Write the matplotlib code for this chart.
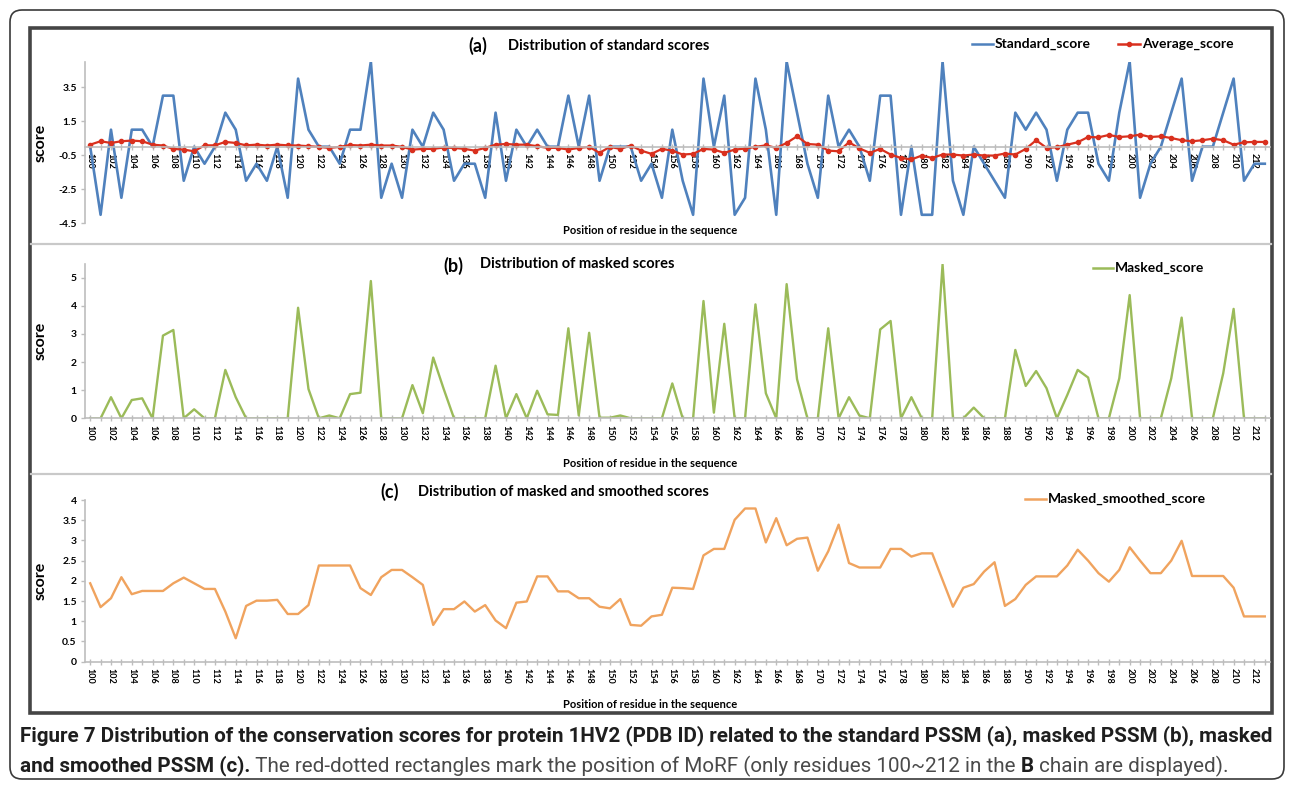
import matplotlib.pyplot as plt
from matplotlib.patches import FancyBboxPatch, Rectangle
from matplotlib.lines import Line2D

plt.rcParams['font.family'] = ['Lato', 'DejaVu Sans']

# residue positions shown on the x axis
residues = list(range(100, 214))

# (a) standard PSSM scores and their running average
standard_score = [0, -4, 1, -3, 1, 1, 0, 3, 3, -2,
                  0, -1, 0, 2, 1, -2, -1, -2, 0, -3,
                  4, 1, 0, 0, -1, 1, 1, 5, -3, -1,
                  -3, 1, 0, 2, 1, -2, -1, -1, -3, 2,
                  -2, 1, 0, 1, 0, 0, 3, 0, 3, -2,
                  0, 0, 0, -2, -1, -3, 1, -2, -4, 4,
                  0, 3, -4, -3, 4, 1, -4, 5, 2, -1,
                  -3, 3, 0, 1, 0, -2, 3, 3, -4, 0,
                  -4, -4, 5, -2, -4, 0, -1, -2, -3, 2,
                  1, 2, 1, -2, 1, 2, 2, -1, -2, 2,
                  5, -3, -1, 0, 2, 4, -2, 0, 0, 2,
                  4, -2, -1, -1]
average_score = [0.12, 0.32, 0.22, 0.32, 0.36, 0.32, 0.12, 0.07, -0.13, -0.17,
                 -0.27, 0.08, 0.08, 0.28, 0.22, 0.08, 0.12, 0.07, 0.12, 0.08,
                 0.07, 0.03, -0.01, -0.07, -0.01, 0.10, 0.07, 0.12, 0.07, 0.07,
                 -0.01, -0.17, -0.13, -0.13, -0.05, -0.07, -0.13, -0.23, -0.07, 0.12,
                 0.16, 0.12, 0.12, 0.03, -0.07, -0.07, -0.17, -0.07, -0.01, -0.36,
                 -0.01, -0.13, 0.07, -0.23, -0.42, -0.13, -0.23, -0.46, -0.42, -0.13,
                 -0.17, -0.36, -0.17, -0.11, -0.01, 0.08, -0.07, 0.22, 0.61, 0.16,
                 0.12, -0.23, -0.27, 0.26, -0.10, -0.36, -0.13, -0.46, -0.66, -0.75,
                 -0.52, -0.66, -0.46, -0.46, -0.52, -0.46, -0.52, -0.52, -0.40, -0.46,
                 -0.13, 0.38, -0.07, -0.03, 0.12, 0.26, 0.57, 0.55, 0.69, 0.57,
                 0.61, 0.71, 0.57, 0.61, 0.51, 0.38, 0.32, 0.38, 0.47, 0.38,
                 0.12, 0.26, 0.28, 0.28]

# (b) masked PSSM scores
masked_score = [0, 0, 0.75, 0, 0.65, 0.71, 0, 2.94, 3.14, 0,
                0.32, 0, 0, 1.72, 0.75, 0, 0, 0, 0, 0,
                3.93, 1.04, 0, 0.1, 0, 0.86, 0.91, 4.88, 0, 0,
                0, 1.18, 0.18, 2.16, 1.05, 0, 0, 0, 0, 1.87,
                0, 0.86, 0, 0.98, 0.14, 0.12, 3.2, 0.1, 3.04, 0.02,
                0.02, 0.1, 0, 0, 0, 0, 1.24, 0, 0, 4.17,
                0.2, 3.36, 0, 0, 4.05, 0.89, 0, 4.77, 1.39, 0,
                0, 3.2, 0, 0.75, 0.1, 0, 3.16, 3.46, 0, 0.75,
                0, 0, 5.47, 0, 0, 0.38, 0, 0, 0, 2.43,
                1.15, 1.68, 1.07, 0, 0.83, 1.72, 1.45, 0, 0, 1.42,
                4.38, 0, 0, 0, 1.42, 3.58, 0, 0, 0, 1.6,
                3.89, 0, 0, 0]

# (c) masked and smoothed PSSM scores
smoothed_score = [1.94, 1.35, 1.57, 2.09, 1.67, 1.75, 1.75, 1.75, 1.94, 2.08,
                  1.94, 1.8, 1.8, 1.24, 0.58, 1.38, 1.51, 1.51, 1.53, 1.18,
                  1.18, 1.4, 2.38, 2.38, 2.38, 2.38, 1.82, 1.65, 2.09, 2.27,
                  2.27, 2.09, 1.9, 0.91, 1.3, 1.3, 1.49, 1.24, 1.4, 1.02,
                  0.83, 1.46, 1.49, 2.11, 2.11, 1.74, 1.74, 1.57, 1.57, 1.36,
                  1.32, 1.55, 0.91, 0.89, 1.12, 1.16, 1.83, 1.82, 1.8, 2.63,
                  2.79, 2.79, 3.51, 3.79, 3.79, 2.95, 3.55, 2.88, 3.04, 3.07,
                  2.25, 2.73, 3.39, 2.44, 2.33, 2.33, 2.33, 2.79, 2.79, 2.6,
                  2.68, 2.68, 2.02, 1.36, 1.83, 1.92, 2.23, 2.46, 1.38, 1.55,
                  1.9, 2.11, 2.11, 2.11, 2.38, 2.77, 2.5, 2.19, 1.98, 2.27,
                  2.83, 2.5, 2.19, 2.19, 2.5, 2.99, 2.12, 2.12, 2.12, 2.12,
                  1.83, 1.12, 1.12, 1.12]

ticks_a = [-4.5, -2.5, -0.5, 1.5, 3.5]
labels_a = ['-4.5', '-2.5', '-0.5', '1.5', '3.5']
ticks_b = [0, 1, 2, 3, 4, 5]
ticks_c = [0, 0.5, 1, 1.5, 2, 2.5, 3, 3.5, 4]
labels_c = ['0', '0.5', '1', '1.5', '2', '2.5', '3', '3.5', '4']

W, H = 1292, 786
fig = plt.figure(figsize=(W / 100, H / 100), dpi=100)

# pixel-space background layer for frames
bg = fig.add_axes([0, 0, 1, 1], zorder=-5)
bg.set_xlim(0, W)
bg.set_ylim(H, 0)
bg.axis('off')
bg.add_patch(FancyBboxPatch((10, 10), 1274, 769, boxstyle='round,pad=0,rounding_size=12',
                            fc='white', ec='#3a3a3a', lw=1.2))
bg.add_patch(Rectangle((30, 28), 1242, 685, fc='white', ec='#454545', lw=2.6))
bg.plot([31, 1271], [244, 244], color='#c9c9c9', lw=1.6)
bg.plot([31, 1271], [474, 474], color='#c9c9c9', lw=1.6)


def box(x0, y0, x1, y1):
    return [x0 / W, 1 - y1 / H, (x1 - x0) / W, (y1 - y0) / H]


def style(ax, yticks, ylim, ylabels=None, cross_zero=False):
    ax.set_xlim(99.5, 213.5)
    ax.set_ylim(*ylim)
    ax.patch.set_visible(False)
    for s in ['top', 'right']:
        ax.spines[s].set_visible(False)
    if cross_zero:
        ax.spines['bottom'].set_position(('data', 0))
    for s in ['left', 'bottom']:
        ax.spines[s].set_color('#bdbdbd')
        ax.spines[s].set_linewidth(1.2)
    ax.set_xticks(residues)
    ax.set_xticklabels([str(r) if r % 2 == 0 else '' for r in residues],
                       rotation=-90, fontsize=6.5, fontweight='bold')
    ax.tick_params(axis='x', direction='inout', length=5, width=1, color='#bdbdbd', pad=2)
    ax.set_yticks(yticks)
    if ylabels is not None:
        ax.set_yticklabels(ylabels)
    ax.tick_params(axis='y', direction='out', length=3, width=1, color='#bdbdbd',
                   labelsize=7.5, pad=3)
    for lab in ax.get_yticklabels():
        lab.set_fontweight('bold')
    ax.set_ylabel('score', fontsize=11.5, fontweight='bold')
    ax.yaxis.set_label_coords(-37 / 1185, 0.5)


# panel (a)
ax1 = fig.add_axes(box(85, 61.6, 1270, 223.3))
ax1.plot(residues, standard_score, color='#4F81BD', lw=1.9)
ax1.plot(residues, average_score, color='#D9301E', lw=1.6, marker='o', markersize=3)
style(ax1, ticks_a, (-4.5, 5.0), labels_a, cross_zero=True)

# panel (b)
ax2 = fig.add_axes(box(85, 263.6, 1270, 418.3))
ax2.plot(residues, masked_score, color='#9BBB59', lw=1.7)
style(ax2, ticks_b, (0, 5.5))

# panel (c)
ax3 = fig.add_axes(box(85, 500, 1270, 661.7))
ax3.plot(residues, smoothed_score, color='#F0A35E', lw=1.7)
style(ax3, ticks_c, (0, 4), labels_c)


def ftext(x, y, s, **kw):
    fig.text(x / W, 1 - y / H, s, **kw)


# titles
ftext(468, 46, '(a)', fontsize=13, fontweight='bold', va='center')
ftext(508, 46, 'Distribution of standard scores', fontsize=10.5, fontweight='bold', va='center')
ftext(443, 266, '(b)', fontsize=13, fontweight='bold', va='center')
ftext(480, 264, 'Distribution of masked scores', fontsize=10.5, fontweight='bold', va='center')
ftext(380, 492, '(c)', fontsize=13, fontweight='bold', va='center')
ftext(418, 492, 'Distribution of masked and smoothed scores', fontsize=10.5, fontweight='bold', va='center')

# x axis titles
for yy in [231, 464, 704]:
    ftext(650, yy, 'Position of residue in the sequence', fontsize=8, fontweight='bold',
          ha='center', va='center')


# legends
def legend_item(x0, x1, y, color, label):
    bg.add_line(Line2D([x0, x1], [y, y], color=color, lw=1.8))
    bg.text(x1 + 2, y, label, fontsize=10, fontweight='bold', va='center')


legend_item(972, 993, 44, '#4F81BD', 'Standard_score')
legend_item(1118, 1140, 44, '#D9301E', 'Average_score')
bg.plot([1129], [44], 'o', color='#D9301E', markersize=3)
legend_item(1093, 1113, 268, '#9BBB59', 'Masked_score')
legend_item(1025, 1046, 499, '#F0A35E', 'Masked_smoothed_score')

# caption
cap_fonts = ['Roboto', 'DejaVu Sans']
renderer = fig.canvas.get_renderer()
line1 = ('Figure 7 Distribution of the conservation scores for protein 1HV2 (PDB ID) '
         'related to the standard PSSM (a), masked PSSM (b), masked')
t1 = bg.text(20, 736, line1, fontsize=12, fontweight='bold', family=cap_fonts,
             color='#1e1e1e', va='center')
w1 = t1.get_window_extent(renderer).width
fs = 12 * 1252 / w1
t1.set_fontsize(fs)

parts = [('and smoothed PSSM (c).', 'bold'),
         (' The red-dotted rectangles mark the position of MoRF (only residues 100~212 in the ', 'normal'),
         ('B', 'bold'),
         (' chain are displayed).', 'normal')]
x = 20
for s, wgt in parts:
    t = bg.text(x, 766, s, fontsize=fs, fontweight=wgt, family=cap_fonts,
                color='#1e1e1e' if wgt == 'bold' else '#4a4a4a', va='center')
    x += t.get_window_extent(renderer).width

fig.savefig('out.png', dpi=100)
